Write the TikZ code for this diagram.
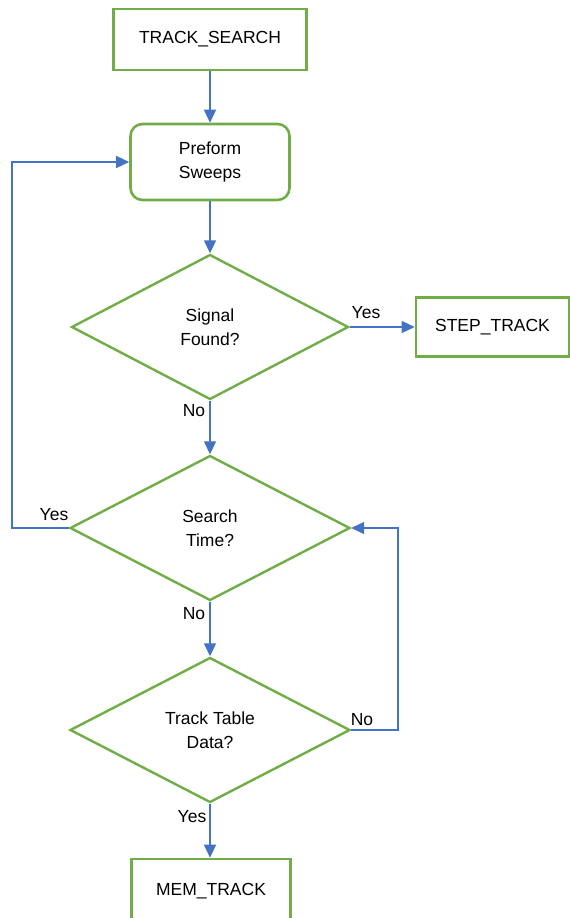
\documentclass[tikz,border=0pt]{standalone}
\usepackage{fontspec}
\setmainfont{Liberation Sans}
\usetikzlibrary{shapes.geometric,arrows.meta}
\definecolor{fgreen}{RGB}{112,173,71}
\definecolor{fblue}{RGB}{68,114,196}
\tikzset{
	statebox/.style={draw=fgreen, line width=2.6pt, minimum width=193pt, minimum height=61pt, inner sep=0pt},
	procbox/.style={statebox, rounded corners=12pt, minimum width=159pt, minimum height=76pt, align=center},
	decision/.style={diamond, draw=fgreen, line width=2.4pt, minimum width=280pt, minimum height=145pt, inner sep=0pt, align=center},
	flow/.style={draw=fblue, line width=1.4pt, -{Triangle[length=13pt,width=12pt]}},
	lbl/.style={inner sep=0pt}
}
\begin{document}
\begin{tikzpicture}[x=1pt, y=-1pt, font=\fontsize{17.5}{23.5}\selectfont]
\useasboundingbox (0,0) rectangle (570,918);

\node[statebox] (search) at (210,39.5) {TRACK\_SEARCH};
\node[procbox] (sweeps) at (210,162) {Preform\\Sweeps};
\node[decision, minimum width=277pt] (found) at (210,327) {Signal\\Found?};
\node[statebox, minimum width=153pt, minimum height=59pt] (steptrack) at (492.5,327) {STEP\_TRACK};
\node[decision] (time) at (210,528) {Search\\Time?};
\node[decision] (table) at (210,730) {Track Table\\Data?};
\node[statebox, minimum width=159pt, minimum height=64pt] (mem) at (211,891) {MEM\_TRACK};

\coordinate (loopL) at (12,528);
\coordinate (loopR) at (398,730);

\draw[flow] (search) -- (sweeps);
\draw[flow] (sweeps) -- (found);
\draw[flow] (found.east) -- (steptrack.west);
\draw[flow] (found) -- (time);
\draw[flow] (time.west) -- (loopL) |- (sweeps.west);
\draw[flow] (time) -- (table);
\draw[flow] (table.east) -- (loopR) |- (time.east);
\draw[flow] (table) -- (mem.north -| table.south);

\node[lbl] (yes1) at (366,313) {Yes};
\node[lbl] (no1) at (194,411) {No};
\node[lbl] (yes2) at (54,515) {Yes};
\node[lbl] (no2) at (194,614) {No};
\node[lbl] (no3) at (362,720) {No};
\node[lbl] (yes3) at (192,817) {Yes};

\end{tikzpicture}
\end{document}
